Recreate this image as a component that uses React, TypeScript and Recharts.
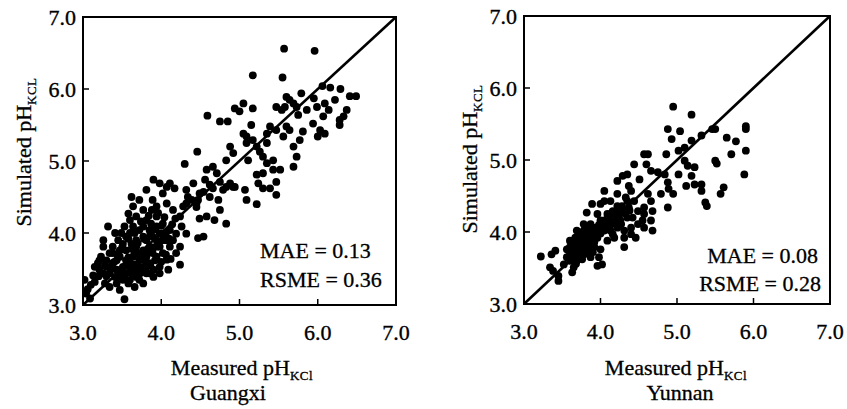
import React from 'react'
import {
  ScatterChart,
  Scatter,
  XAxis,
  YAxis,
  ReferenceLine,
  ReferenceArea,
} from 'recharts'

const guangxiPoints: [number, number][] = [
  [5.57, 6.56], [5.96, 6.53], [5.17, 6.19], [5.55, 6.16], [4.59, 5.63], [4.75, 5.55], [4.85, 5.55],
  [4.46, 5.13], [4.30, 4.96],
  [6.49, 5.90], [6.41, 5.90], [6.29, 6.0], [6.16, 6.02], [6.06, 6.04], [5.95, 5.87], [5.79, 5.94],
  [5.60, 5.89], [5.64, 5.85], [5.69, 5.80], [5.73, 5.75], [5.58, 5.75], [5.47, 5.75], [5.54, 5.71],
  [5.75, 5.64], [5.86, 5.71], [5.99, 5.75], [6.09, 5.80], [6.14, 5.71], [6.22, 5.85], [6.37, 5.71],
  [6.33, 5.62], [6.28, 5.57], [6.28, 5.50], [6.07, 5.62], [5.94, 5.52], [6.03, 5.43], [6.09, 5.38],
  [6.00, 5.34], [5.81, 5.41], [5.77, 5.29], [5.69, 5.20], [5.73, 5.06], [5.69, 4.92], [5.60, 5.48],
  [5.64, 5.43], [5.56, 5.34], [5.47, 5.43], [5.39, 5.48], [5.35, 5.38], [5.35, 5.25], [5.26, 5.13],
  [5.22, 5.20], [5.17, 5.29], [5.09, 5.25], [5.09, 5.34], [5.05, 5.38], [5.15, 5.50], [5.17, 5.73],
  [5.05, 5.80], [5.00, 5.69], [4.94, 5.73], [4.88, 5.20], [4.92, 5.11], [4.83, 5.01], [5.11, 5.01],
  [5.30, 5.06], [5.35, 4.97], [5.43, 5.01], [5.43, 4.88], [5.52, 4.88], [5.30, 4.83], [5.22, 4.81],
  [5.24, 4.69], [5.47, 4.71], [5.39, 4.62], [5.47, 4.53], [5.30, 4.62], [5.07, 4.60], [5.09, 4.46],
  [5.22, 4.40], [4.94, 4.64], [4.75, 4.71], [4.71, 4.83], [4.66, 4.92], [4.58, 4.88], [4.56, 4.74],
  [4.66, 4.62], [4.79, 4.60], [4.83, 4.64], [4.75, 4.32], [4.83, 4.13], [4.68, 4.18], [4.58, 4.23],
  [4.49, 4.20], [4.45, 4.36], [4.54, 3.95], [4.47, 3.93], [4.41, 4.69], [4.34, 4.50], [4.28, 4.37],
  [4.24, 4.23], [4.26, 4.09], [4.32, 3.99],
  [3.90, 4.74], [3.81, 4.60], [3.72, 4.46], [3.62, 4.50], [3.64, 4.37], [3.98, 4.69], [4.07, 4.64],
  [4.11, 4.69], [4.17, 4.62], [4.02, 4.55], [3.89, 4.46], [3.94, 4.37], [4.07, 4.41], [4.15, 4.32],
  [3.77, 4.32], [3.68, 4.23], [3.60, 4.18], [3.81, 4.18], [3.94, 4.23], [4.02, 4.13], [4.11, 4.04],
  [4.19, 3.99], [4.15, 3.90], [4.24, 3.81], [4.19, 3.72], [4.24, 3.56], [4.07, 3.63], [4.09, 3.49],
  [3.98, 3.53], [3.90, 3.39], [3.81, 3.44], [3.72, 3.35], [3.66, 3.25], [3.53, 3.08], [3.47, 3.21],
  [3.43, 3.30], [3.34, 3.25], [3.28, 3.30], [3.15, 3.32], [3.02, 3.35], [3.04, 3.16], [3.09, 3.09],
  [3.23, 3.67], [3.19, 3.58], [3.26, 3.90], [3.26, 3.81], [3.32, 4.09], [3.41, 4.00], [3.45, 3.90],
  [3.38, 3.81], [3.34, 3.72], [3.30, 3.62], [3.38, 3.58], [3.47, 3.67], [3.55, 3.76], [3.51, 3.85],
  [3.60, 4.00], [3.64, 4.09], [3.72, 4.04], [3.68, 3.90], [3.77, 3.95], [3.85, 4.04], [3.89, 3.95],
  [3.94, 4.09], [3.98, 3.99], [4.02, 3.90], [3.94, 3.81], [3.85, 3.81], [3.77, 3.76], [3.81, 3.67],
  [3.72, 3.62], [3.64, 3.67], [3.60, 3.58], [3.51, 3.53], [3.43, 3.49], [3.34, 3.44], [3.26, 3.44],
  [3.21, 3.49], [3.55, 3.44], [3.64, 3.49], [3.72, 3.53], [3.85, 3.58], [3.94, 3.67], [4.02, 3.72],
  [4.11, 3.81], [4.07, 3.90], [3.81, 3.53], [3.68, 3.39], [3.47, 3.39], [3.60, 3.35], [3.41, 3.39],
  [3.90, 3.49], [3.98, 3.44], [3.77, 3.30], [3.81, 3.90], [3.72, 3.72], [3.55, 3.62], [3.47, 3.76],
  [3.38, 3.72], [3.62, 3.85], [3.55, 3.95], [3.68, 3.81], [3.89, 3.72], [3.98, 3.81], [4.02, 3.99],
  [3.94, 3.90], [3.87, 4.13], [3.77, 4.09], [3.58, 4.27], [3.53, 4.09], [3.49, 4.00], [3.21, 3.62],
  [3.15, 3.53], [3.13, 3.41], [3.30, 3.53], [3.43, 3.62], [3.51, 3.35], [3.62, 3.44], [3.73, 3.44],
  [3.85, 3.44],
  [4.32, 4.41], [4.39, 4.46], [4.49, 4.55], [4.62, 4.50], [4.73, 4.46], [4.92, 4.64], [4.32, 4.60],
  [4.47, 4.46], [4.54, 4.57], [4.62, 4.67], [4.88, 4.69], [4.45, 4.41],
  [3.50, 3.50], [3.55, 3.55], [3.60, 3.48], [3.66, 3.56], [3.70, 3.45], [3.75, 3.52], [3.80, 3.60],
  [3.86, 3.55], [3.92, 3.62], [3.58, 3.66], [3.66, 3.72], [3.74, 3.68], [3.82, 3.75], [3.90, 3.80],
  [3.96, 3.86], [3.62, 3.78], [3.70, 3.86], [3.78, 3.92], [3.86, 3.98], [3.92, 4.05], [4.00, 4.10],
  [4.06, 4.00], [4.10, 3.92], [4.14, 4.12], [4.18, 4.20], [4.04, 4.22], [3.96, 4.28], [3.88, 4.32],
  [3.84, 4.24], [3.74, 4.16], [3.66, 4.00], [3.58, 3.92], [3.50, 3.80], [3.44, 3.70], [3.40, 3.60],
  [3.36, 3.50], [3.30, 3.40], [3.46, 3.44], [3.52, 3.36], [3.58, 3.30], [4.00, 3.60], [4.06, 3.70],
  [4.12, 3.64], [3.28, 3.55], [3.20, 3.40], [3.10, 3.28], [3.06, 3.22],
]

const yunnanPoints: [number, number][] = [
  [4.95, 5.74], [5.19, 5.63], [4.88, 5.43], [5.04, 5.40], [4.93, 5.29], [5.19, 5.27], [5.10, 5.17],
  [5.02, 5.13], [5.32, 5.34], [5.46, 5.43], [5.50, 5.43], [5.90, 5.47], [5.90, 5.43], [5.65, 5.31],
  [5.77, 5.26], [5.71, 5.08], [5.90, 5.13], [5.88, 4.80], [5.52, 4.95], [5.50, 4.99], [5.61, 4.62],
  [5.57, 4.53], [5.32, 4.66], [5.32, 4.57], [5.37, 4.41], [5.39, 4.36], [5.23, 4.66], [5.19, 4.78],
  [5.14, 4.92], [5.23, 4.90], [5.10, 4.99], [5.12, 4.64], [5.02, 4.80], [4.86, 5.08], [4.57, 5.08],
  [4.62, 5.08], [4.60, 4.94], [4.44, 4.94], [4.29, 4.78], [4.22, 4.71], [4.35, 4.80], [4.51, 4.73],
  [4.37, 4.64], [4.66, 4.85], [4.75, 4.83], [4.84, 4.80], [4.88, 4.69], [4.79, 4.53], [4.89, 4.60],
  [4.95, 4.53], [4.88, 4.34], [4.62, 4.53], [4.66, 4.43], [4.57, 4.34], [4.68, 4.29], [4.57, 4.25],
  [4.66, 4.16], [4.55, 4.16], [4.57, 4.06], [4.68, 4.02], [4.46, 3.92], [4.31, 3.92], [4.31, 3.79],
  [4.42, 4.20], [4.49, 4.29], [4.44, 4.43], [4.33, 4.48], [4.22, 4.53], [4.05, 4.57], [4.13, 4.43],
  [4.22, 4.36], [4.29, 4.29], [4.35, 4.20], [4.37, 4.34], [4.16, 4.29], [4.09, 4.25], [4.05, 4.43],
  [4.00, 4.39], [3.89, 4.39], [3.82, 4.27], [3.96, 4.25], [4.05, 4.16], [4.13, 4.16], [4.22, 4.20],
  [4.22, 4.06], [4.13, 4.02], [4.05, 4.02], [4.16, 3.97], [4.18, 3.92], [3.96, 4.06], [3.87, 4.11],
  [3.78, 4.11], [3.92, 3.97], [3.82, 3.97], [3.74, 3.97], [3.69, 4.02], [3.96, 3.92], [3.87, 3.88],
  [3.78, 3.88], [3.69, 3.88], [3.60, 3.88], [3.65, 3.79], [3.74, 3.79], [3.82, 3.79], [3.92, 3.79],
  [4.00, 3.76], [3.98, 3.65], [4.02, 3.55], [3.96, 3.53], [3.87, 3.65], [3.78, 3.69], [3.69, 3.69],
  [3.60, 3.69], [3.56, 3.76], [3.60, 3.60], [3.69, 3.60], [3.76, 3.62], [3.63, 3.44], [3.65, 3.51],
  [3.56, 3.65], [3.52, 3.55], [3.41, 3.74], [3.36, 3.69], [3.22, 3.66], [3.34, 3.51], [3.38, 3.46],
  [3.45, 3.39], [3.45, 3.32], [3.74, 3.83], [3.82, 3.92], [3.87, 4.02], [3.94, 4.06], [4.00, 4.16],
  [4.09, 4.11], [3.74, 3.92], [3.78, 4.02], [3.67, 3.92], [3.60, 3.79], [3.71, 3.74], [3.80, 3.74],
  [3.89, 3.72], [3.92, 3.86], [3.69, 3.83], [3.63, 3.83], [4.27, 4.11], [4.31, 4.02], [4.40, 4.06],
  [4.49, 4.11], [4.40, 3.97], [4.09, 3.88], [4.18, 4.25], [4.35, 4.43], [4.40, 4.57],
  [3.70, 3.75], [3.72, 3.85], [3.78, 3.80], [3.84, 3.86], [3.86, 3.95], [3.90, 4.00], [3.95, 4.02],
  [3.98, 4.10], [4.02, 4.06], [4.06, 4.14], [4.10, 4.20], [4.14, 4.26], [4.20, 4.28], [4.24, 4.22],
  [4.28, 4.36], [3.66, 3.70], [3.62, 3.62], [3.68, 3.56], [3.74, 3.64], [3.80, 3.70], [3.84, 3.78],
  [3.90, 3.72], [3.94, 3.95], [4.00, 3.98], [3.76, 3.96], [3.80, 4.06], [3.70, 3.66], [3.64, 3.74],
  [4.12, 4.05], [4.18, 4.12], [4.26, 4.16], [4.32, 4.26], [4.38, 4.30],
]

const axisTicks = [3, 4, 5, 6, 7]
const regionNames = ['Guangxi', 'Yunnan']
const maeValues = ['0.13', '0.08']
const rsmeValues = ['0.36', '0.28']

const FONT = '"Liberation Serif", "Times New Roman", serif'
const FS = 22

const toRows = (pts: [number, number][]) => pts.map(([x, y]) => ({ x, y }))

const Dot = (props: any) => <circle cx={props.cx} cy={props.cy} r={3.9} fill="#000" />

const XTick = (props: any) => {
  const { x, y, payload } = props
  return (
    <g>
      <line x1={x} y1={y} x2={x} y2={y - 6} stroke="#000" strokeWidth={1.5} />
      <text x={x} y={y + 35} textAnchor="middle" fontFamily={FONT} fontSize={FS} fill="#000" stroke="#000" strokeWidth={0.35}>
        {payload.value.toFixed(1)}
      </text>
    </g>
  )
}

const YTick = (props: any) => {
  const { x, y, payload } = props
  return (
    <g>
      <line x1={x} y1={y} x2={x + 6} y2={y} stroke="#000" strokeWidth={1.5} />
      <text x={x - 7} y={y + 7.5} textAnchor="end" fontFamily={FONT} fontSize={FS} fill="#000" stroke="#000" strokeWidth={0.35}>
        {payload.value.toFixed(1)}
      </text>
    </g>
  )
}

function Panel({ points, margin }: { points: [number, number][]; margin: any }) {
  return (
    <ScatterChart width={420} height={409} margin={margin}>
      <XAxis
        type="number"
        dataKey="x"
        domain={[3, 7]}
        ticks={axisTicks}
        interval={0}
        allowDataOverflow
        axisLine={false}
        tickLine={false}
        tickSize={0}
        tickMargin={0}
        height={40}
        tick={<XTick />}
      />
      <YAxis
        type="number"
        dataKey="y"
        domain={[3, 7]}
        ticks={axisTicks}
        interval={0}
        allowDataOverflow
        axisLine={false}
        tickLine={false}
        tickSize={0}
        tickMargin={0}
        width={50}
        tick={<YTick />}
      />
      <Scatter data={toRows(points)} shape={Dot} isAnimationActive={false} />
      <ReferenceLine
        segment={[{ x: 3, y: 3 }, { x: 7, y: 7 }]}
        stroke="#000"
        strokeWidth={2.6}
        ifOverflow="visible"
      />
      <ReferenceArea
        x1={3}
        x2={7}
        y1={3}
        y2={7}
        fill="none"
        fillOpacity={0}
        stroke="#000"
        strokeWidth={2}
        ifOverflow="visible"
      />
    </ScatterChart>
  )
}

const textBase: React.CSSProperties = {
  position: 'absolute',
  fontFamily: FONT,
  fontSize: FS,
  lineHeight: 1,
  color: '#000',
  whiteSpace: 'nowrap',
  WebkitTextStroke: '0.3px #000',
}

const Sub = ({ children }: { children: React.ReactNode }) => (
  <span style={{ fontSize: 13, letterSpacing: 0.5, position: 'relative', top: 5 }}>{children}</span>
)

export default function App() {
  return (
    <div style={{ position: 'absolute', left: 0, top: 0, width: 847, height: 409, background: '#fff' }}>
      <div style={{ position: 'absolute', left: 0, top: 0 }}>
        <Panel points={guangxiPoints} margin={{ top: 17, right: 24, bottom: 64, left: 33 }} />
      </div>
      <div style={{ position: 'absolute', left: 430, top: 0 }}>
        <Panel points={yunnanPoints} margin={{ top: 16, right: 20, bottom: 65, left: 44 }} />
      </div>

      {/* axis titles */}
      <div style={{ ...textBase, left: 242, top: 357, transform: 'translateX(-50%)' }}>
        Measured pH<Sub>KCl</Sub>
      </div>
      <div style={{ ...textBase, left: 228, top: 382, transform: 'translateX(-50%)' }}>{regionNames[0]}</div>
      <div style={{ ...textBase, left: 676, top: 357, transform: 'translateX(-50%)' }}>
        Measured pH<Sub>KCl</Sub>
      </div>
      <div style={{ ...textBase, left: 680, top: 382, transform: 'translateX(-50%)' }}>{regionNames[1]}</div>

      <div style={{ ...textBase, left: 24, top: 152, transform: 'translate(-50%, -50%) rotate(-90deg)' }}>
        Simulated pH<Sub>KCL</Sub>
      </div>
      <div style={{ ...textBase, left: 470, top: 159, transform: 'translate(-50%, -50%) rotate(-90deg)' }}>
        Simulated pH<Sub>KCL</Sub>
      </div>

      {/* error stats */}
      <div style={{ ...textBase, left: 260, top: 240 }}>MAE = {maeValues[0]}</div>
      <div style={{ ...textBase, left: 260, top: 269 }}>RSME = {rsmeValues[0]}</div>
      <div style={{ ...textBase, right: 29, top: 245, textAlign: 'right' }}>MAE = {maeValues[1]}</div>
      <div style={{ ...textBase, right: 26, top: 273, textAlign: 'right' }}>RSME = {rsmeValues[1]}</div>
    </div>
  )
}
